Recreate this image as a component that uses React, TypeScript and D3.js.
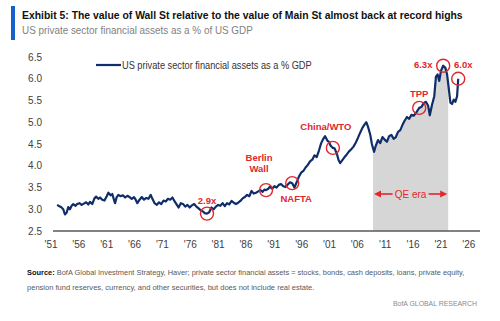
import React, { useLayoutEffect, useRef, useState } from "react";
import * as d3 from "d3";

// quarterly-ish readings, private sector financial assets / GDP
const years = [
  1952.1, 1952.5, 1952.8, 1953.2, 1953.5, 1953.8, 1954.1, 1954.4, 1954.7, 1955.0,
  1955.4, 1955.7, 1956.1, 1956.5, 1956.9, 1957.3, 1957.7, 1958.0, 1958.4, 1958.8,
  1959.1, 1959.5, 1959.8, 1960.2, 1960.6, 1961.0, 1961.3, 1961.7, 1962.0, 1962.3,
  1962.5, 1962.8, 1963.1, 1963.5, 1963.9, 1964.3, 1964.7, 1965.1, 1965.5, 1965.9,
  1966.2, 1966.5, 1966.9, 1967.3, 1967.7, 1968.1, 1968.5, 1968.9, 1969.2, 1969.6,
  1970.0, 1970.4, 1970.8, 1971.2, 1971.6, 1972.0, 1972.4, 1972.8, 1973.2, 1973.6,
  1973.9, 1974.3, 1974.7, 1975.1, 1975.5, 1975.9, 1976.3, 1976.7, 1977.1, 1977.5,
  1977.9, 1978.3, 1978.6, 1979.0, 1979.4, 1979.8, 1980.2, 1980.6, 1981.0, 1981.4,
  1981.8, 1982.2, 1982.6, 1983.0, 1983.4, 1983.8, 1984.2, 1984.6, 1985.0, 1985.4,
  1985.8, 1986.2, 1986.6, 1987.0, 1987.4, 1987.8, 1988.2, 1988.6, 1989.0, 1989.3,
  1989.6, 1990.0, 1990.3, 1990.7, 1991.1, 1991.5, 1991.9, 1992.3, 1992.7, 1993.1,
  1993.5, 1993.9, 1994.3, 1994.7, 1995.1, 1995.5, 1995.9, 1996.3, 1996.7, 1997.1,
  1997.5, 1997.9, 1998.3, 1998.7, 1999.1, 1999.5, 1999.8, 2000.2, 2000.6, 2000.9,
  2001.2, 2001.6, 2001.9, 2002.3, 2002.6, 2002.9, 2003.3, 2003.7, 2004.1, 2004.5,
  2004.9, 2005.3, 2005.7, 2006.1, 2006.5, 2006.9, 2007.3, 2007.6, 2007.9, 2008.3,
  2008.6, 2009.0, 2009.3, 2009.7, 2010.1, 2010.5, 2010.9, 2011.3, 2011.7, 2012.1,
  2012.5, 2012.9, 2013.3, 2013.7, 2014.1, 2014.5, 2014.9, 2015.3, 2015.7, 2016.1,
  2016.5, 2016.8, 2017.1, 2017.5, 2017.9, 2018.3, 2018.7, 2019.0, 2019.4, 2019.8,
  2020.1, 2020.4, 2020.7, 2021.0, 2021.4, 2021.8, 2022.1, 2022.4, 2022.7, 2023.0,
  2023.3, 2023.6, 2023.9, 2024.1,
];

const ratio = [
  3.10, 3.07, 3.05, 3.00, 2.88, 2.92, 3.05, 3.00, 3.08, 3.12,
  3.08, 3.12, 3.14, 3.10, 3.13, 3.16, 3.11, 3.17, 3.12, 3.25,
  3.29, 3.24, 3.27, 3.22, 3.20, 3.30, 3.38, 3.32, 3.35, 3.22,
  3.14, 3.28, 3.33, 3.30, 3.32, 3.27, 3.31, 3.28, 3.24, 3.28,
  3.22, 3.14, 3.22, 3.28, 3.22, 3.26, 3.24, 3.33, 3.24, 3.14,
  3.10, 3.16, 3.12, 3.20, 3.18, 3.24, 3.22, 3.27, 3.18, 3.10,
  3.04, 3.14, 3.12, 3.06, 3.10, 3.04, 3.09, 3.12, 3.06, 3.02,
  2.97, 2.95, 2.91, 2.90, 2.93, 3.04, 3.00, 3.06, 3.10, 3.08,
  3.14, 3.07, 3.14, 3.11, 3.19, 3.15, 3.12, 3.15, 3.19, 3.25,
  3.28, 3.33, 3.30, 3.42, 3.36, 3.38, 3.41, 3.44, 3.40, 3.45,
  3.44, 3.47, 3.52, 3.47, 3.53, 3.50, 3.56, 3.58, 3.53, 3.51,
  3.57, 3.62, 3.60, 3.50, 3.62, 3.75, 3.84, 3.88, 3.96, 4.02,
  4.10, 4.14, 4.24, 4.20, 4.35, 4.52, 4.60, 4.68, 4.58, 4.55,
  4.46, 4.41, 4.40, 4.28, 4.14, 4.06, 4.13, 4.20, 4.26, 4.33,
  4.38, 4.44, 4.53, 4.64, 4.76, 4.87, 4.95, 5.00, 4.90, 4.72,
  4.50, 4.32, 4.46, 4.59, 4.52, 4.66, 4.60, 4.55, 4.68, 4.71,
  4.62, 4.66, 4.78, 4.82, 4.94, 5.04, 5.12, 5.08, 5.17, 5.15,
  5.21, 5.27, 5.33, 5.35, 5.44, 5.47, 5.38, 5.16, 5.40, 5.60,
  6.05, 6.10, 5.95, 6.18, 6.30, 6.25, 6.10, 5.78, 5.45, 5.42,
  5.52, 5.47, 5.60, 6.00,
];

const yTicks = [2.5, 3.0, 3.5, 4.0, 4.5, 5.0, 5.5, 6.0, 6.5];
const xTickYears = [1951, 1956, 1961, 1966, 1971, 1976, 1981, 1986, 1991, 1996, 2001, 2006, 2011, 2016, 2021, 2026];

const qeStart = 2008.8;
const qeEnd = 2022.3;

// event markers: label + the data point they sit on
const eventNames = ["2.9x", "Berlin\nWall", "NAFTA", "China/WTO", "TPP", "6.3x", "6.0x"];
const eventYears = [1979.0, 1989.6, 1994.3, 2001.6, 2017.1, 2021.4, 2024.1];

const RED = "#e0282e";
const NAVY = "#0f2d6b";
const FONT = "'Liberation Sans', Arial, sans-serif";

// where each label sits relative to its circle (dx, dy of first baseline)
const labelOffsets: [number, number][] = [
  [0, -10],
  [-7, -29],
  [4, 19],
  [-7, -18],
  [0, -11],
  [-20, 2],
  [5, -11],
];

// text squeezed horizontally to a given width (the house font is condensed)
function FitText(props: { x: number; y: number; width: number; children: React.ReactNode } & React.SVGProps<SVGTextElement>) {
  const { x, y, width, children, ...rest } = props;
  const ref = useRef<SVGTextElement>(null);
  const [sx, setSx] = useState(1);
  useLayoutEffect(() => {
    if (!ref.current) return;
    const natural = ref.current.getComputedTextLength();
    if (natural > 0) setSx(width / natural);
  }, [width]);
  return (
    <text ref={ref} transform={`translate(${x},${y}) scale(${sx},1)`} {...rest}>
      {children}
    </text>
  );
}

export default function App() {
  const data = years.map((yr, i) => ({ yr, v: ratio[i] }));

  const x = d3.scaleLinear().domain([1951, 2026]).range([51, 468.8]);
  const y = d3.scaleLinear().domain([2.5, 6.5]).range([231, 57]);

  const line = d3
    .line<{ yr: number; v: number }>()
    .x((d) => x(d.yr))
    .y((d) => y(d.v));

  const area = d3
    .area<{ yr: number; v: number }>()
    .x((d) => x(d.yr))
    .y0(y(2.5))
    .y1((d) => y(d.v));

  const valueAt = (yr: number) => {
    const i = d3.bisector((d: { yr: number }) => d.yr).left(data, yr);
    if (i <= 0) return data[0].v;
    if (i >= data.length) return data[data.length - 1].v;
    const a = data[i - 1];
    const b = data[i];
    return a.v + ((b.v - a.v) * (yr - a.yr)) / (b.yr - a.yr);
  };

  const qeY = 194;
  const qeMid = (x(qeStart) + x(qeEnd)) / 2;

  return (
    <svg width={500} height={321} style={{ display: "block", position: "absolute", left: 0, top: 0, background: "#fff" }}>
      <defs>
        <clipPath id="qe-clip">
          <rect x={x(qeStart)} y={0} width={x(qeEnd) - x(qeStart)} height={321} />
        </clipPath>
      </defs>

      {/* heading */}
      <rect x={11} y={6} width={4} height={34} fill="#1560c9" />
      <FitText x={22} y={19} width={441} fontFamily={FONT} fontSize={11.5} fontWeight="bold" fill="#111">
        Exhibit 5: The value of Wall St relative to the value of Main St almost back at record highs
      </FitText>
      <FitText x={22} y={34} width={231} fontFamily={FONT} fontSize={11} fill="#7f7f7f">
        US private sector financial assets as a % of US GDP
      </FitText>

      {/* QE era shading */}
      <path d={area(data) ?? ""} fill="#d6d6d6" clipPath="url(#qe-clip)" />

      {/* y axis labels */}
      {yTicks.map((t) => (
        <text key={t} x={42} y={y(t) + 3.5} textAnchor="end" fontFamily={FONT} fontSize={10} fill="#404040">
          {d3.format(".1f")(t)}
        </text>
      ))}

      {/* x axis */}
      <line x1={53} x2={480} y1={y(2.5)} y2={y(2.5)} stroke="#595959" strokeWidth={1.5} />
      {xTickYears.map((yr) => (
        <text key={yr} x={x(yr)} y={248} textAnchor="middle" fontFamily={FONT} fontSize={10} fill="#404040">
          {"'" + String(yr).slice(2)}
        </text>
      ))}

      {/* legend */}
      <line x1={96} x2={121} y1={65} y2={65} stroke={NAVY} strokeWidth={2.2} />
      <FitText x={122} y={68.5} width={190} fontFamily={FONT} fontSize={10} fill="#333">
        US private sector financial assets as a % GDP
      </FitText>

      {/* series */}
      <path d={line(data) ?? ""} fill="none" stroke={NAVY} strokeWidth={2.2} strokeLinejoin="round" />

      {/* QE era arrow */}
      <g fill={RED} stroke={RED}>
        <line x1={x(qeStart) + 6} x2={qeMid - 18} y1={qeY} y2={qeY} strokeWidth={1.6} />
        <line x1={qeMid + 18} x2={x(qeEnd) - 6} y1={qeY} y2={qeY} strokeWidth={1.6} />
        <path d={`M${x(qeStart) + 1},${qeY} l7,-3.5 v7 z`} stroke="none" />
        <path d={`M${x(qeEnd) - 1},${qeY} l-7,-3.5 v7 z`} stroke="none" />
        <text x={qeMid} y={qeY + 3.5} textAnchor="middle" stroke="none" fontFamily={FONT} fontSize={10}>
          QE era
        </text>
      </g>

      {/* events */}
      {eventNames.map((name, i) => {
        const cx = x(eventYears[i]);
        const cy = y(valueAt(eventYears[i]));
        const [dx, dy] = labelOffsets[i];
        const lines = name.split("\n");
        return (
          <g key={name}>
            <circle cx={cx} cy={cy} r={6.5} fill="none" stroke={RED} strokeWidth={1.4} />
            <text x={cx + dx} y={cy + dy} textAnchor="middle" fontFamily={FONT} fontSize={9.5} fontWeight="bold" fill={RED}>
              {lines.map((l, j) => (
                <tspan key={j} x={cx + dx} dy={j === 0 ? 0 : 11}>
                  {l}
                </tspan>
              ))}
            </text>
          </g>
        );
      })}

      {/* footnote */}
      <FitText x={27} y={275} width={438} fontFamily={FONT} fontSize={7.8} fill="#595959">
        <tspan fontWeight="bold" fill="#111">Source: </tspan>
        BofA Global Investment Strategy, Haver; private sector financial assets = stocks, bonds, cash deposits, loans, private equity,
      </FitText>
      <FitText x={27} y={290} width={288} fontFamily={FONT} fontSize={7.8} fill="#595959">
        pension fund reserves, currency, and other securities, but does not include real estate.
      </FitText>
      <text x={477} y={306} textAnchor="end" fontFamily={FONT} fontSize={7.8} fill="#8a8a8a" textLength={84} lengthAdjust="spacingAndGlyphs">
        BofA GLOBAL RESEARCH
      </text>
    </svg>
  );
}
